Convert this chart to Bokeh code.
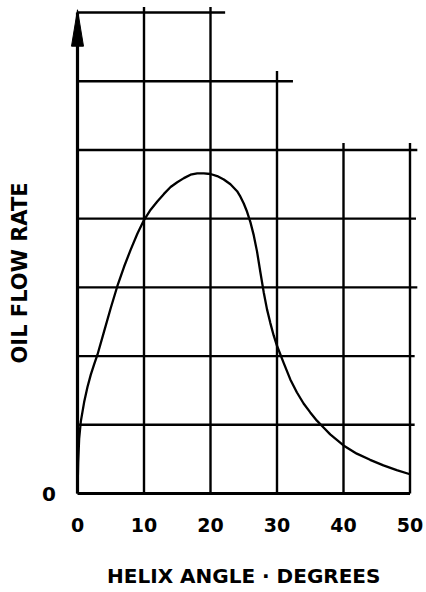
from math import pi
from bokeh.plotting import figure
from bokeh.models import Range1d
from bokeh.core.properties import value
from bokeh.embed import file_html
from bokeh.resources import INLINE

# ---- data ----
angle = [0, 0.1, 0.25, 0.5, 1, 1.5, 2, 2.5, 3, 4, 5, 6, 7, 8, 9, 10, 11, 12, 13,
         14, 15, 16, 17, 18, 19, 20, 21, 22, 23, 24, 24.5, 25, 25.5, 26, 26.5,
         27, 27.5, 28, 28.5, 29, 29.5, 30, 31, 32, 33, 34, 35, 36, 37, 38, 39,
         40, 42, 44, 46, 48, 50]
flow = [0, 0.45, 0.8, 1.05, 1.33, 1.55, 1.73, 1.88, 2.02, 2.36, 2.7, 3.02, 3.3,
        3.55, 3.78, 3.98, 4.13, 4.25, 4.36, 4.46, 4.53, 4.59, 4.64, 4.66, 4.66,
        4.65, 4.62, 4.57, 4.5, 4.4, 4.32, 4.22, 4.1, 3.95, 3.76, 3.52, 3.22,
        2.93, 2.68, 2.48, 2.3, 2.15, 1.9, 1.66, 1.47, 1.31, 1.18, 1.06, 0.96,
        0.86, 0.78, 0.7, 0.58, 0.49, 0.41, 0.34, 0.28]

x_ticks = [0, 10, 20, 30, 40, 50]
x_tick_labels = ["0", "10", "20", "30", "40", "50"]
y_ticks = [0]
y_tick_labels = ["0"]

# grid drawn by hand in the original: horizontal levels and their right ends,
# vertical positions and their top ends
h_levels = [1, 2, 3, 4, 5, 6, 7]
h_ends = [50.7, 50.7, 51.1, 50.9, 51.1, 32.4, 22.2]
v_positions = [10, 20, 30, 40, 50]
v_tops = [7.08, 7.08, 6.15, 5.1, 5.1]
axis_top = 7.0
x_max = 50

x_title = "HELIX ANGLE · DEGREES"
y_title = "OIL FLOW RATE"

# ---- layout / styles ----
W, H = 426, 592
X0_PX, X_SCALE = 77, 6.65      # pixel of x=0, pixels per degree
Y0_PX, Y_SCALE = 493, 68.71    # pixel of y=0, pixels per unit
FONT = "DejaVu Sans"
GRID_W = 2.4
AXIS_W = 3.2
CURVE_W = 2.3
HEAD_HALF_W = 0.9
HEAD_LEN = 0.49
X_TICK_ROW = -0.465            # y of the x tick labels
Y_TICK_COL = -4.3              # x of the y tick labels
X_TITLE_POS = (25, -1.2)
Y_TITLE_POS = (-8.6, 3.21)

p = figure(width=W, height=H, output_backend="svg", toolbar_location=None,
           x_range=Range1d(-X0_PX / X_SCALE, (W - X0_PX) / X_SCALE),
           y_range=Range1d(-(H - Y0_PX) / Y_SCALE, Y0_PX / Y_SCALE),
           min_border=0, x_axis_location=None, y_axis_location=None)
p.outline_line_color = None
p.grid.visible = False
p.background_fill_color = "white"
p.border_fill_color = "white"

# grid
p.segment(x0=[0] * len(h_levels), y0=h_levels, x1=h_ends, y1=h_levels,
          line_color="black", line_width=GRID_W)
p.segment(x0=v_positions, y0=[0] * len(v_positions), x1=v_positions, y1=v_tops,
          line_color="black", line_width=GRID_W)
# axis lines
p.segment(x0=[0], y0=[0], x1=[x_max], y1=[0], line_color="black", line_width=AXIS_W)
p.segment(x0=[0], y0=[0], x1=[0], y1=[axis_top], line_color="black", line_width=AXIS_W)
# arrow head on the vertical axis
p.patch(x=[-HEAD_HALF_W, 0, HEAD_HALF_W],
        y=[axis_top - HEAD_LEN, axis_top + 0.04, axis_top - HEAD_LEN],
        fill_color="black", line_color="black", line_width=1)

# curve
p.line(angle, flow, line_color="black", line_width=CURVE_W, line_join="round")

# tick labels
p.text(x=x_ticks, y=[X_TICK_ROW] * len(x_ticks), text=x_tick_labels,
       text_font=value(FONT), text_font_style="bold", text_font_size=value("19px"),
       text_color="black", text_align="center", text_baseline="middle")
p.text(x=[Y_TICK_COL] * len(y_ticks), y=y_ticks, text=y_tick_labels,
       text_font=value(FONT), text_font_style="bold", text_font_size=value("20px"),
       text_color="black", text_align="center", text_baseline="middle")

# axis titles
p.text(x=[X_TITLE_POS[0]], y=[X_TITLE_POS[1]], text=[x_title],
       text_font=value(FONT), text_font_style="bold", text_font_size=value("20px"),
       text_color="black", text_align="center", text_baseline="middle")
p.text(x=[Y_TITLE_POS[0]], y=[Y_TITLE_POS[1]], text=[y_title], angle=pi / 2,
       text_font=value(FONT), text_font_style="bold", text_font_size=value("21px"),
       text_color="black", text_align="center", text_baseline="middle")

open("out.html", "w").write(file_html(p, INLINE))
